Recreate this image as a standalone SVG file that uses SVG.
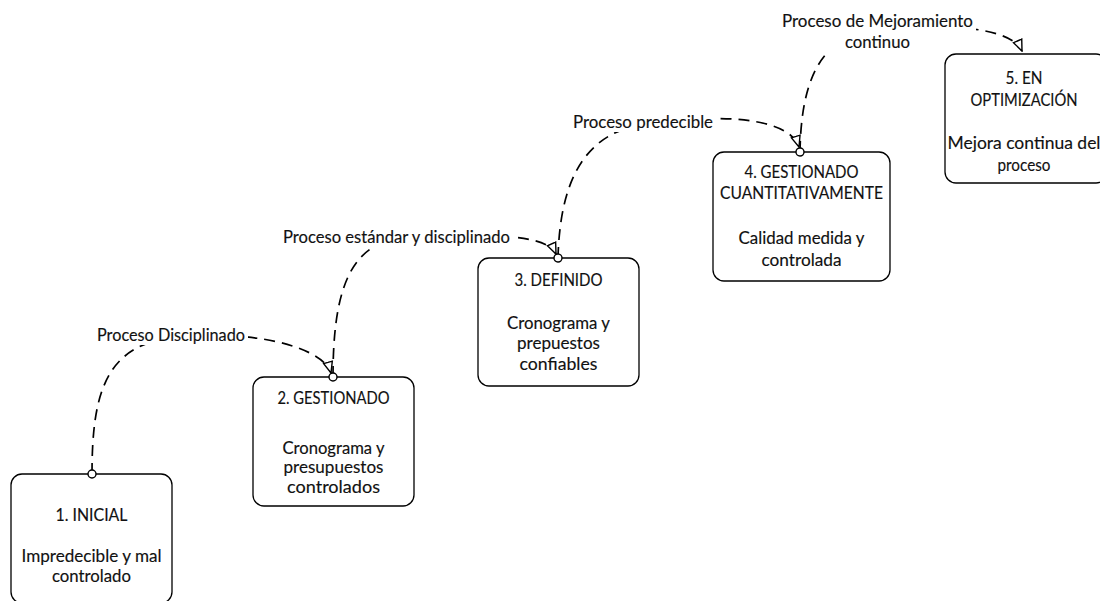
<svg xmlns="http://www.w3.org/2000/svg" width="1100" height="601" viewBox="0 0 1100 601">
  <style>
    .box { fill: #ffffff; stroke: #000000; stroke-width: 1.3; }
    .txt { font-family: Lato, "Liberation Sans", sans-serif; font-size: 17.5px; fill: #111111; text-anchor: middle; stroke: #111111; stroke-width: 0.15; }
    .edge { fill: none; stroke: #000000; stroke-width: 1.7; stroke-dasharray: 11 7; marker-start: url(#dot); marker-end: url(#open-arrow); }
    .lbl-bg { fill: #ffffff; stroke: none; }
  </style>
  <defs>
    <marker id="open-arrow" markerUnits="userSpaceOnUse" viewBox="0 0 13 12" refX="12" refY="6" markerWidth="13" markerHeight="12" orient="auto">
      <path d="M1,1.5 L12,6 L1,10.5 Z" fill="#ffffff" stroke="#000000" stroke-width="1.4"/>
    </marker>
    <marker id="dot" markerUnits="userSpaceOnUse" viewBox="-6 -6 12 12" refX="0" refY="0" markerWidth="12" markerHeight="12" orient="auto">
      <circle cx="0" cy="0" r="4" fill="#ffffff" stroke="#000000" stroke-width="1.4"/>
    </marker>
  </defs>

  <rect width="1100" height="601" fill="#ffffff"/>

  <!-- maturity levels -->
  <g id="level-1">
    <rect class="box" x="11" y="474" width="161" height="129" rx="11"/>
    <text class="txt" x="91.5" y="520.5" textLength="72" lengthAdjust="spacingAndGlyphs">1. INICIAL</text>
    <text class="txt" x="91.5" y="562" textLength="140" lengthAdjust="spacingAndGlyphs">Impredecible y mal</text>
    <text class="txt" x="91.5" y="582" textLength="79" lengthAdjust="spacingAndGlyphs">controlado</text>
  </g>

  <g id="level-2">
    <rect class="box" x="253" y="377" width="161" height="129" rx="11"/>
    <text class="txt" x="333.5" y="403.5" textLength="112" lengthAdjust="spacingAndGlyphs">2. GESTIONADO</text>
    <text class="txt" x="333.5" y="453.5" textLength="102" lengthAdjust="spacingAndGlyphs">Cronograma y</text>
    <text class="txt" x="333.5" y="472.5" textLength="100" lengthAdjust="spacingAndGlyphs">presupuestos</text>
    <text class="txt" x="333.5" y="492.5" textLength="93" lengthAdjust="spacingAndGlyphs">controlados</text>
  </g>

  <g id="level-3">
    <rect class="box" x="478" y="258" width="161" height="128" rx="11"/>
    <text class="txt" x="558.5" y="285.5" textLength="88" lengthAdjust="spacingAndGlyphs">3. DEFINIDO</text>
    <text class="txt" x="558.5" y="328.5" textLength="103" lengthAdjust="spacingAndGlyphs">Cronograma y</text>
    <text class="txt" x="558.5" y="348.5" textLength="83" lengthAdjust="spacingAndGlyphs">prepuestos</text>
    <text class="txt" x="558.5" y="370" textLength="78" lengthAdjust="spacingAndGlyphs">confiables</text>
  </g>

  <g id="level-4">
    <rect class="box" x="713" y="152" width="177" height="129" rx="11"/>
    <text class="txt" x="801.5" y="177.5" textLength="114" lengthAdjust="spacingAndGlyphs">4. GESTIONADO</text>
    <text class="txt" x="801.5" y="198.5" textLength="163" lengthAdjust="spacingAndGlyphs">CUANTITATIVAMENTE</text>
    <text class="txt" x="801.5" y="243.5" textLength="126" lengthAdjust="spacingAndGlyphs">Calidad medida y</text>
    <text class="txt" x="801.5" y="265.5" textLength="80" lengthAdjust="spacingAndGlyphs">controlada</text>
  </g>

  <g id="level-5">
    <rect class="box" x="945" y="54" width="162" height="129" rx="11"/>
    <text class="txt" x="1024" y="83.5" textLength="37" lengthAdjust="spacingAndGlyphs">5. EN</text>
    <text class="txt" x="1024" y="105.5" textLength="107" lengthAdjust="spacingAndGlyphs">OPTIMIZACIÓN</text>
    <text class="txt" x="1024" y="148.5" textLength="153" lengthAdjust="spacingAndGlyphs">Mejora continua del</text>
    <text class="txt" x="1024" y="170.5" textLength="53" lengthAdjust="spacingAndGlyphs">proceso</text>
  </g>

  <!-- transitions between levels -->
  <g id="connectors">
    <path class="edge" d="M92,474 C92,392 106,345 175,337 C270,329 325,352 331,373"/>
    <path class="edge" d="M333,377 C333,290 350,245 400,238 C500,232 548,236 556,254"/>
    <path class="edge" d="M558,258 C560,180 585,135 640,125 C720,112 790,118 799,147"/>
    <path class="edge" d="M800,152 C801,90 815,40 870,30 C950,22 1012,28 1022,51"/>

    <rect class="lbl-bg" x="95" y="326" width="153" height="19"/>
    <text class="txt" x="171" y="341" textLength="148" lengthAdjust="spacingAndGlyphs">Proceso Disciplinado</text>

    <rect class="lbl-bg" x="281" y="228" width="232" height="19"/>
    <text class="txt" x="396.5" y="242.5" textLength="227" lengthAdjust="spacingAndGlyphs">Proceso estándar y disciplinado</text>

    <rect class="lbl-bg" x="571" y="113" width="145" height="19"/>
    <text class="txt" x="643" y="127.5" textLength="140" lengthAdjust="spacingAndGlyphs">Proceso predecible</text>

    <rect class="lbl-bg" x="779" y="9" width="197" height="43"/>
    <text class="txt" x="877.5" y="26.5" textLength="191" lengthAdjust="spacingAndGlyphs">Proceso de Mejoramiento</text>
    <text class="txt" x="877.5" y="47.5" textLength="65" lengthAdjust="spacingAndGlyphs">continuo</text>
  </g>
</svg>
